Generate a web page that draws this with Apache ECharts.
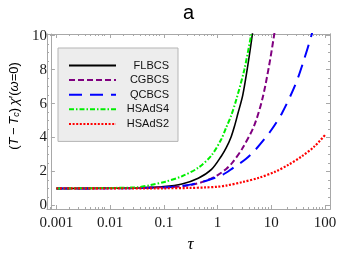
<!DOCTYPE html>
<html><head><meta charset="utf-8">
<script src="https://cdn.jsdelivr.net/npm/echarts@6/dist/echarts.min.js"></script>
<style>html,body{margin:0;padding:0;background:#fff}#c{width:349px;height:260px}</style>
</head><body><div id="c"></div>
<script>
// ---- data ----
const xTicks = [0.001, 0.01, 0.1, 1, 10, 100];
const xTickLabels = ['0.001', '0.01', '0.1', '1', '10', '100'];
const yTicks = [0, 2, 4, 6, 8, 10];
const yTickLabels = ['0', '2', '4', '6', '8', '10'];
const seriesNames = ['FLBCS', 'CGBCS', 'QCBCS', 'HSAdS4', 'HSAdS2'];

const tauFLBCS = [0.001, 0.01, 0.0316, 0.1, 0.217, 0.436, 0.77, 1.17, 1.45, 1.79, 2.06, 2.38, 2.94, 3.63, 4.47, 5.25];
const valFLBCS = [1, 1.01, 1.03, 1.11, 1.26, 1.6, 2.12, 2.9, 3.4, 4.05, 4.66, 5.4, 6.5, 8.2, 10.16, 11.9];

const tauCGBCS = [0.001, 0.01, 0.1, 0.288, 0.579, 1.02, 1.445, 1.86, 2.88, 4.79, 6.84, 9.04, 11.17, 13.2];
const valCGBCS = [1, 1.01, 1.07, 1.18, 1.43, 1.8, 2.15, 2.5, 3.35, 4.7, 6.3, 8.2, 9.96, 11.5];

const tauQCBCS = [0.001, 0.01, 0.1, 0.331, 0.676, 1.26, 1.92, 3.39, 5.13, 9.77, 15.85, 27.9, 39.8, 56.2, 70.8];
const valQCBCS = [1, 1.01, 1.06, 1.24, 1.5, 1.82, 2.2, 2.75, 3.3, 4.4, 5.45, 7.1, 8.5, 10.06, 11.3];

const tauHSAdS4 = [0.001, 0.01, 0.0316, 0.054, 0.107, 0.217, 0.436, 0.77, 1.17, 1.45, 1.79, 2.21, 3.14, 4.17, 5.0];
const valHSAdS4 = [1, 1.03, 1.07, 1.19, 1.4, 1.72, 2.22, 2.95, 3.9, 4.6, 5.3, 6.2, 8.0, 9.96, 11.2];

const tauHSAdS2 = [0.001, 0.1, 0.3, 0.58, 1, 1.445, 2.94, 5.9, 12, 20.9, 37.2, 64.6, 100];
const valHSAdS2 = [1, 1.01, 1.03, 1.06, 1.1, 1.17, 1.38, 1.63, 2.0, 2.4, 2.9, 3.5, 4.15];

// ---- styling / layout ----
const FRAME = '#a8a8a8';
const LABEL = '#1a1a1a';
const SERIF = 'Liberation Serif';
const SANS = 'Liberation Sans';
const XMIN = -3.103, XMAX = 2.092;   // log10 extent of the frame
const YMIN = -0.21, YMAX = 10.1;

const lg = v => Math.log10(v);
const xMajor = xTicks.map(lg);
const xMinor = [];
for (let d = -4; d <= 2; d++) for (let k = 2; k <= 9; k++) {
  const v = lg(k * Math.pow(10, d));
  if (v > XMIN && v < XMAX) xMinor.push(v);
}
const yMinor = [];
for (let v = 0.5; v < 10; v += 0.5) if (Math.abs(v / 2 - Math.round(v / 2)) > 1e-6) yMinor.push(v);

const xFmt = v => { const i = xMajor.findIndex(t => Math.abs(t - v) < 1e-6); return i >= 0 ? xTickLabels[i] : ''; };
const yFmt = v => { const i = yTicks.findIndex(t => Math.abs(t - v) < 1e-6); return i >= 0 ? yTickLabels[i] : ''; };

function xAx(grid, pos, ticks, len, labels, extra) {
  return Object.assign({
    type: 'value', gridIndex: grid, position: pos, min: XMIN, max: XMAX,
    axisLine: {show: true, onZero: false, lineStyle: {color: FRAME, width: 1}},
    axisTick: {show: true, inside: true, length: len, customValues: ticks, lineStyle: {color: FRAME, width: 1}},
    axisLabel: labels ? {show: true, customValues: xMajor, formatter: xFmt, margin: 7,
      fontFamily: SERIF, fontSize: 15, color: LABEL} : {show: false},
    splitLine: {show: false}
  }, extra || {});
}
function yAx(grid, pos, ticks, len, labels, extra) {
  return Object.assign({
    type: 'value', gridIndex: grid, position: pos, min: YMIN, max: YMAX,
    axisLine: {show: true, onZero: false, lineStyle: {color: FRAME, width: 1}},
    axisTick: {show: true, inside: true, length: len, customValues: ticks, lineStyle: {color: FRAME, width: 1}},
    axisLabel: labels ? {show: true, customValues: yTicks, formatter: yFmt, margin: 4,
      fontFamily: SERIF, fontSize: 15, color: LABEL} : {show: false},
    splitLine: {show: false}
  }, extra || {});
}

const seriesDefs = [
  {name: 'FLBCS', tau: tauFLBCS, val: valFLBCS, color: '#000000', width: 1.6, type: 'solid'},
  {name: 'CGBCS', tau: tauCGBCS, val: valCGBCS, color: '#800080', width: 2, type: [6, 3]},
  {name: 'QCBCS', tau: tauQCBCS, val: valQCBCS, color: '#0000ff', width: 2, type: [13, 8]},
  {name: 'HSAdS4', tau: tauHSAdS4, val: valHSAdS4, color: '#00ee00', width: 2, type: [5, 2, 1.5, 2]},
  {name: 'HSAdS2', tau: tauHSAdS2, val: valHSAdS2, color: '#ff0000', width: 2.2, type: [2, 1.6]}
];

const chart = echarts.init(document.getElementById('c'), null, {renderer: 'canvas'});
chart.setOption({
  animation: false,
  backgroundColor: '#ffffff',
  title: {
    text: 'a', left: 183, top: 3, padding: 0,
    textStyle: {fontFamily: SANS, fontSize: 20, fontWeight: 'normal', color: '#000'}
  },
  grid: [
    {left: 47, right: 19, top: 34, bottom: 51},
    {left: 47, right: 19, top: 34, bottom: 51}
  ],
  xAxis: [
    xAx(0, 'bottom', xMajor, 4, true, {
      name: 'τ', nameLocation: 'middle', nameGap: 25,
      nameTextStyle: {fontFamily: SERIF, fontStyle: 'italic', fontSize: 17, color: '#000'}
    }),
    xAx(0, 'top', xMajor, 4, false),
    xAx(1, 'bottom', xMinor, 2, false),
    xAx(1, 'top', xMinor, 2, false)
  ],
  yAxis: [
    yAx(0, 'left', yTicks, 4, true, {
      name: '({i|T}\u2009−\u2009{i|T}{s|c})\u2009{i|χ}′({i|ω}=0)',
      nameLocation: 'middle', nameGap: 24,
      nameTextStyle: {
        fontFamily: SANS, fontSize: 13, color: '#000', padding: [0, 0, 0, 31],
        rich: {
          i: {fontFamily: SANS, fontSize: 13, fontStyle: 'italic', color: '#000'},
          s: {fontFamily: SANS, fontSize: 9, fontStyle: 'italic', color: '#000', verticalAlign: 'bottom', lineHeight: 9}
        }
      }
    }),
    yAx(0, 'right', yTicks, 4, false),
    yAx(1, 'left', yMinor, 2, false),
    yAx(1, 'right', yMinor, 2, false)
  ],
  legend: {
    data: seriesNames,
    orient: 'vertical', left: 58, top: 48,
    padding: [12, 9, 12, 10],
    itemWidth: 47, itemHeight: 12, itemGap: 3.6,
    backgroundColor: '#ededed', borderColor: '#b5b5b5', borderWidth: 1,
    itemStyle: {opacity: 0, borderWidth: 0},
    formatter: n => '{a|' + n + '}',
    textStyle: {
      rich: {a: {width: 48, align: 'right', fontFamily: SANS, fontSize: 11, lineHeight: 12, color: '#111'}}
    }
  },
  series: seriesDefs.map(s => ({
    name: s.name, type: 'line', xAxisIndex: 0, yAxisIndex: 0,
    data: s.tau.map((t, i) => [lg(t), s.val[i]]),
    symbol: 'none', showSymbol: false, smooth: 0.3, clip: true,
    lineStyle: {color: s.color, width: s.width, type: s.type},
    itemStyle: {color: s.color}
  }))
});
</script></body></html>
